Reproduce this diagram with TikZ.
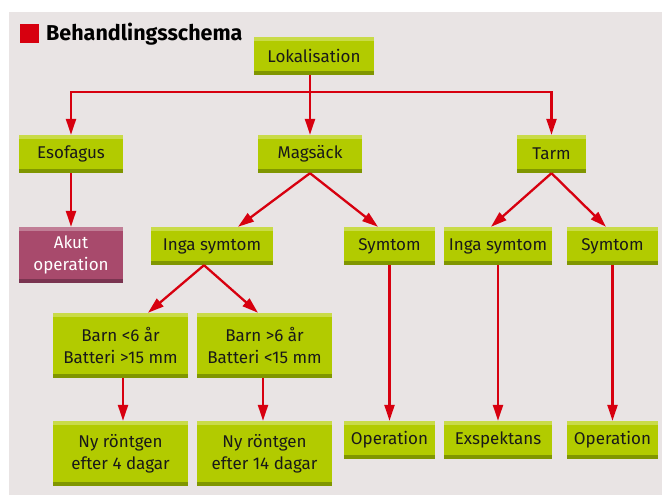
\documentclass[tikz,border=0pt]{standalone}
\usepackage{fontspec}
\setmainfont{Fira Sans}
\usetikzlibrary{arrows.meta, calc}
\definecolor{bgpaper}{RGB}{233,228,228}
\definecolor{boxgreen}{RGB}{178,203,0}
\definecolor{boxgreenlight}{RGB}{201,219,72}
\definecolor{boxgreendark}{RGB}{128,150,0}
\definecolor{boxplum}{RGB}{168,74,108}
\definecolor{boxplumlight}{RGB}{193,126,150}
\definecolor{boxplumdark}{RGB}{122,52,80}
\definecolor{arrowred}{RGB}{215,0,15}

\begin{document}
\begin{tikzpicture}[x=1pt, y=-1pt,
    box/.style={fill=boxgreen, inner sep=0pt, minimum height=38pt, align=center,
      text=black!90, font=\fontsize{17}{22}\selectfont,
      path picture={
        \fill[boxgreenlight] (path picture bounding box.north west) rectangle ([yshift=-4pt]path picture bounding box.north east);
        \fill[boxgreendark] ([yshift=4pt]path picture bounding box.south west) rectangle (path picture bounding box.south east);}},
    akutbox/.style={box, fill=boxplum, text=white,
      path picture={
        \fill[boxplumlight] (path picture bounding box.north west) rectangle ([yshift=-4pt]path picture bounding box.north east);
        \fill[boxplumdark] ([yshift=4pt]path picture bounding box.south west) rectangle (path picture bounding box.south east);}},
    arr/.style={draw=arrowred, line width=2.3pt, -{Triangle[length=16pt, width=10pt]}}]
    % Canvas
    \useasboundingbox (0,0) rectangle (662,495);
    \fill[bgpaper] (9,12) rectangle (662,495);

    % Title
    \fill[arrowred] (20,24) rectangle (39,43);
    \node[anchor=base west, inner sep=0pt, font=\fontsize{21.5}{24}\selectfont\bfseries] (title) at (46,41) {Behandlingsschema};

    % Top level
    \node[box, minimum width=120pt] (lok) at (314,56) {Lokalisation};

    % Second level
    \node[box, minimum width=104pt] (eso) at (71,154) {Esofagus};
    \node[box, minimum width=104pt] (mag) at (310,154) {Magsäck};
    \node[box, minimum width=69pt] (tarm) at (551.5,154) {Tarm};

    % Third level
    \node[akutbox, minimum width=104pt, minimum height=56pt] (akut) at (71,255) {Akut\\operation};
    \node[box, minimum width=122pt] (inga1) at (212,246) {Inga symtom};
    \node[box, minimum width=91pt] (sym1) at (389.5,246) {Symtom};
    \node[box, minimum width=108pt] (inga2) at (498,246) {Inga symtom};
    \node[box, minimum width=91pt] (sym2) at (612.5,246) {Symtom};

    % Fourth level
    \node[box, minimum width=135pt, minimum height=65pt] (barn1) at (120.5,345.5) {Barn <6 år\\Batteri >15 mm};
    \node[box, minimum width=135pt, minimum height=65pt] (barn2) at (264.5,345.5) {Barn >6 år\\Batteri <15 mm};

    % Bottom level
    \node[box, minimum width=135pt, minimum height=65pt] (ny1) at (120.5,453.5) {Ny röntgen\\efter 4 dagar};
    \node[box, minimum width=135pt, minimum height=65pt] (ny2) at (264.5,453.5) {Ny röntgen\\efter 14 dagar};
    \node[box, minimum width=91pt] (op1) at (389.5,440) {Operation};
    \node[box, minimum width=108pt] (exsp) at (498,440) {Exspektans};
    \node[box, minimum width=91pt] (op2) at (612.5,440) {Operation};

    % Connectors
    \coordinate (split) at (310,92);
    \draw[arr] (lok.south -| mag.north) -- (mag.north);
    \draw[arr] (split) -| (eso.north);
    \draw[arr] (split) -| (tarm.north);
    \draw[arr] (eso) -- (akut);
    \draw[arr] (mag.south) -- ($(inga1.north)+(26,0)$);
    \draw[arr] (mag.south) -- ($(sym1.north)+(-11.5,0)$);
    \draw[arr] (tarm.south) -- ($(inga2.north)+(-7,0)$);
    \draw[arr] (tarm.south) -- ($(sym2.north)+(-6.5,0)$);
    \draw[arr] ($(inga1.south)+(-8,0)$) -- ($(barn1.north)+(27.5,0)$);
    \draw[arr] ($(inga1.south)+(-8,0)$) -- ($(barn2.north)+(-6.5,0)$);
    \draw[arr] ($(barn1.south)+(2.5,0)$) -- ($(ny1.north)+(2.5,0)$);
    \draw[arr] ($(barn2.south)+(-1.5,0)$) -- ($(ny2.north)+(-1.5,0)$);
    \draw[arr] (sym1) -- (op1);
    \draw[arr] (inga2) -- (exsp);
    \draw[arr] (sym2) -- (op2);
\end{tikzpicture}
\end{document}
